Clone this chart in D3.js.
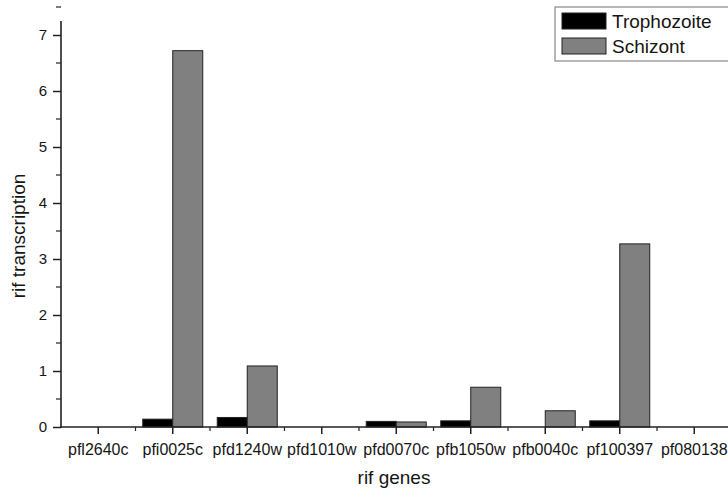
<!DOCTYPE html>
<head>
    <title>rif transcription</title>
    <meta charset="utf-8">
    <style>
    body { margin: 0; background-color: #fff; }
    svg { display: block; }
    text { font-family: "Liberation Sans", Arial, sans-serif; fill: #151515; }
    </style>
    <script src="https://d3js.org/d3.v7.min.js"></script>
</head>
<body>
<script>
    // data
    const genes = ['pfl2640c', 'pfi0025c', 'pfd1240w', 'pfd1010w', 'pfd0070c', 'pfb1050w', 'pfb0040c', 'pf100397', 'pf080138']
    const series = ['Trophozoite', 'Schizont']
    const trophozoite = [0, 0.14, 0.17, 0, 0.10, 0.11, 0, 0.11, 0]
    const schizont = [0, 6.72, 1.09, 0, 0.09, 0.71, 0.29, 3.27, 0]
    const yTicks = [0, 1, 2, 3, 4, 5, 6, 7]
    const colors = { Trophozoite: '#000', Schizont: '#808080' }

    const width = 728, height = 494
    const plotLeft = 61, plotBottom = 427, plotTop = 21

    const svg = d3.select('body').append('svg')
        .attr('width', width)
        .attr('height', height)

    const x = d3.scaleBand().domain(genes).range([plotLeft, plotLeft + 74.5 * genes.length])
    const inner = d3.scaleBand().domain(series).range([-30, 30])
    const y = d3.scaleLinear().domain([0, 7.25]).range([plotBottom, plotTop])

    const rows = genes.map((g, i) => ({ gene: g, Trophozoite: trophozoite[i], Schizont: schizont[i] }))

    // bars
    const grp = svg.append('g').selectAll('g')
        .data(rows)
        .join('g')
        .attr('transform', d => `translate(${x(d.gene) + x.bandwidth() / 2},0)`)

    grp.selectAll('rect')
        .data(d => series.map(s => ({ s, v: d[s] })).filter(e => e.v > 0))
        .join('rect')
        .attr('x', e => inner(e.s))
        .attr('width', inner.bandwidth())
        .attr('y', e => y(e.v))
        .attr('height', e => plotBottom - y(e.v))
        .attr('fill', e => colors[e.s])
        .attr('stroke', '#222')
        .attr('stroke-width', 1)

    // y axis
    const yAxis = svg.append('g')
        .attr('transform', `translate(${plotLeft},0)`)
    yAxis.call(d3.axisLeft(y).tickValues(yTicks).tickSize(8).tickPadding(6).tickFormat(d3.format('d')))
    yAxis.select('.domain').remove()
    yAxis.selectAll('.tick line').attr('stroke', '#222').attr('stroke-width', 1.5)
    yAxis.selectAll('.tick text').attr('font-size', 15).attr('font-family', '"Liberation Sans", Arial, sans-serif').attr('fill', '#151515')
    yAxis.selectAll('.minor')
        .data(yTicks.map(t => t + 0.5))
        .join('line')
        .attr('class', 'minor')
        .attr('x1', -5).attr('x2', 0)
        .attr('y1', d => y(d)).attr('y2', d => y(d))
        .attr('stroke', '#222').attr('stroke-width', 1.2)
    yAxis.append('line')
        .attr('x1', 0).attr('x2', 0)
        .attr('y1', plotTop).attr('y2', plotBottom + 1)
        .attr('stroke', '#222').attr('stroke-width', 1.6)

    // x axis
    const xAxis = svg.append('g')
        .attr('transform', `translate(0,${plotBottom})`)
    xAxis.call(d3.axisBottom(x).tickSize(7).tickPadding(10))
    xAxis.select('.domain').remove()
    xAxis.selectAll('.tick line').attr('stroke', '#222').attr('stroke-width', 1.5)
    xAxis.selectAll('.tick text').attr('font-size', 16).attr('font-family', '"Liberation Sans", Arial, sans-serif').attr('fill', '#151515')
    xAxis.selectAll('.minor')
        .data(genes.slice(1))
        .join('line')
        .attr('class', 'minor')
        .attr('x1', d => x(d)).attr('x2', d => x(d))
        .attr('y1', 0).attr('y2', 4)
        .attr('stroke', '#222').attr('stroke-width', 1.2)
    xAxis.append('line')
        .attr('x1', plotLeft - 1).attr('x2', width)
        .attr('y1', 0).attr('y2', 0)
        .attr('stroke', '#222').attr('stroke-width', 1.6)

    // axis titles
    svg.append('text')
        .attr('transform', `translate(25,${(plotTop + plotBottom) / 2 + 12}) rotate(-90)`)
        .attr('text-anchor', 'middle')
        .attr('font-size', 19)
        .text('rif transcription')

    svg.append('text')
        .attr('x', 394)
        .attr('y', 484)
        .attr('text-anchor', 'middle')
        .attr('font-size', 19)
        .text('rif genes')

    // legend
    const legend = svg.append('g')
    legend.append('rect')
        .attr('x', 555).attr('y', 7)
        .attr('width', 180).attr('height', 54)
        .attr('fill', '#fff')
        .attr('stroke', '#888').attr('stroke-width', 1.2)
    const item = legend.selectAll('.item')
        .data(series)
        .join('g')
        .attr('class', 'item')
        .attr('transform', (d, i) => `translate(562,${13 + i * 25})`)
    item.append('rect')
        .attr('width', 44).attr('height', 16)
        .attr('fill', d => colors[d])
        .attr('stroke', '#222')
    item.append('text')
        .attr('x', 50).attr('y', 15)
        .attr('font-size', 19)
        .text(d => d)
</script>
</body>
</html>
